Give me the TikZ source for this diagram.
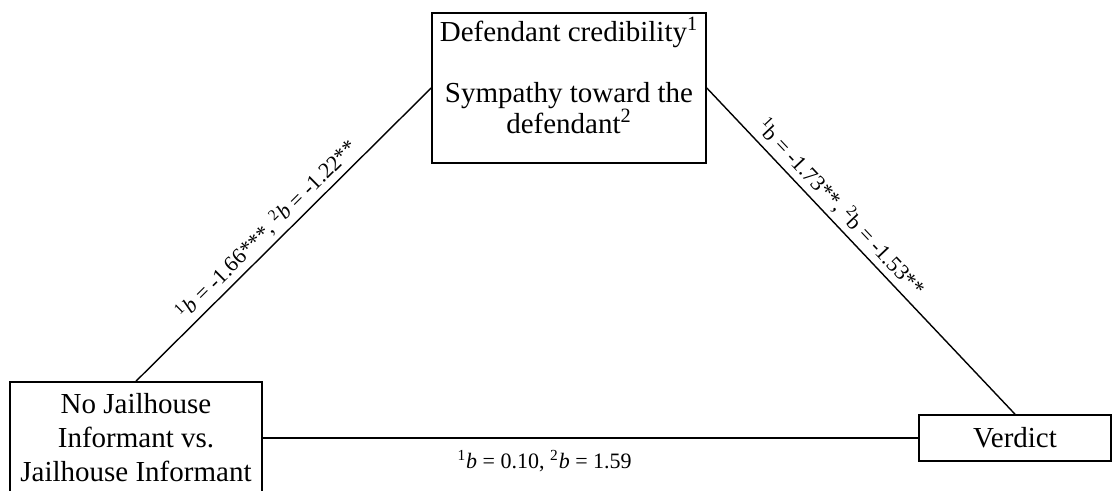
\documentclass[tikz,border=0pt]{standalone}
\usepackage{fontspec}
\setmainfont{Liberation Serif}
\usetikzlibrary{positioning, shapes}

\begin{document}
\begin{tikzpicture}[x=0.5pt,y=-0.5pt]
            \tikzset{box/.style = {draw, line width=0.8pt, align=center, inner sep=0pt, font=\fontsize{14.5}{17}\selectfont}}
            \tikzset{link/.style = {line width=0.7pt}}
            \tikzset{coef/.style = {font=\fontsize{11}{13}\selectfont, inner sep=2pt}}

            \useasboundingbox (0,0) rectangle (1112,491);
            \clip (0,0) rectangle (1112,491);

            \node[box, minimum width=126pt, minimum height=56pt] (jail) at (136,438) {No Jailhouse\\Informant vs.\\Jailhouse Informant};
            \node[box, minimum width=137pt, minimum height=75pt] (cred) at (569,88) {};
            \node[align=center, inner sep=0pt, anchor=north, font=\fontsize{14.5}{15.5}\selectfont] (credtxt) at (569,17) {Defendant credibility\textsuperscript{1}\\[15pt]Sympathy toward the\\defendant\textsuperscript{2}};
            \node[box, minimum width=96pt, minimum height=23pt] (verd) at (1015,438) {Verdict};

            % paths
            \draw[link] (jail.north) -- node[coef, sloped, above, pos=0.48] {\textsuperscript{1}\textit{b} = -1.66***, \textsuperscript{2}\textit{b} = -1.22**} (cred.west);
            \draw[link] (cred.east) -- node[coef, sloped, above, pos=0.40] {\textsuperscript{1}b = -1.73**, \textsuperscript{2}b = -1.53**} (verd.north);
            \draw[link] (jail.east) -- node[coef, below, pos=0.43, yshift=-4pt] {\textsuperscript{1}\textit{b} = 0.10, \textsuperscript{2}\textit{b} = 1.59} (verd.west);

        \end{tikzpicture}
\end{document}
